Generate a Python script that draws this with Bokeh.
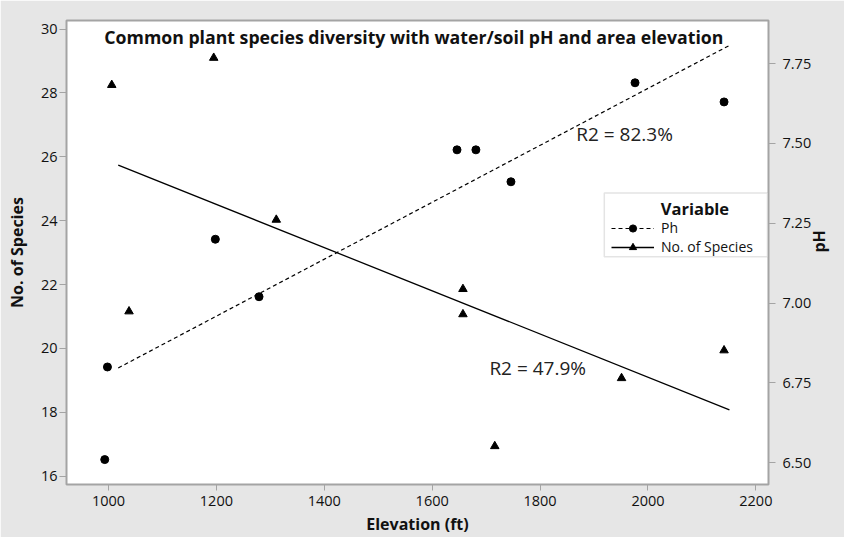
import math
from bokeh.plotting import figure
from bokeh.models import (Range1d, LinearAxis, FixedTicker, NumeralTickFormatter,
                          Label, Legend, LegendItem, BoxAnnotation)
from bokeh.embed import file_html
from bokeh.resources import INLINE

# ---- data ----
elev_ph = [993, 998, 1198, 1279, 1646, 1681, 1746, 1976, 2141]
ph = [6.51, 6.80, 7.20, 7.02, 7.48, 7.48, 7.38, 7.69, 7.63]

elev_species = [1006, 1038, 1195, 1311, 1657, 1657, 1716, 1951, 2141]
species = [28.25, 21.16, 29.10, 24.03, 21.86, 21.07, 16.94, 19.07, 19.94]

fit_elev = [1018, 2151]
fit_ph = [6.797, 7.807]
fit_species = [25.74, 18.08]

x_ticks = [1000, 1200, 1400, 1600, 1800, 2000, 2200]
species_ticks = [16, 18, 20, 22, 24, 26, 28, 30]
ph_ticks = [6.50, 6.75, 7.00, 7.25, 7.50, 7.75]

title_text = "Common plant species diversity with water/soil pH and area elevation"
x_label = "Elevation (ft)"
y_label = "No. of Species"
y2_label = "pH"
r2_ph_text = "R2 = 82.3%"
r2_species_text = "R2 = 47.9%"
legend_title = "Variable"
legend_labels = ["Ph", "No. of Species"]

FONT = "Open Sans"
GRAY = "#a4a4a4"
TXT = "#111111"

p = figure(width=844, height=537, output_backend="svg", toolbar_location=None,
           x_range=Range1d(922.1, 2223.4), y_range=Range1d(15.74, 30.27),
           min_border_left=66, min_border_right=71, min_border_top=20,
           min_border_bottom=52,
           background_fill_color="white", border_fill_color="#e6e6e6",
           outline_line_color=GRAY, outline_line_width=2)
p.extra_y_ranges = {"ph": Range1d(6.432, 7.885)}
p.xgrid.visible = False
p.ygrid.visible = False

right = LinearAxis(y_range_name="ph", axis_label=y2_label)
p.add_layout(right, "right")
p.xaxis.axis_label = x_label
p.yaxis[0].axis_label = y_label

p.xaxis.ticker = FixedTicker(ticks=x_ticks)
p.yaxis[0].ticker = FixedTicker(ticks=species_ticks)
right.ticker = FixedTicker(ticks=ph_ticks)
right.formatter = NumeralTickFormatter(format="0.00")

for ax in [p.xaxis[0], p.yaxis[0], right]:
    ax.axis_line_color = None
    ax.major_tick_line_color = GRAY
    ax.major_tick_line_width = 1
    ax.major_tick_in = 0
    ax.major_tick_out = 7
    ax.minor_tick_line_color = None
    ax.major_label_text_font = FONT
    ax.major_label_text_font_size = "14.5px"
    ax.major_label_text_color = TXT
    ax.axis_label_text_font = FONT
    ax.axis_label_text_font_style = "bold"
    ax.axis_label_text_font_size = "16px"
    ax.axis_label_text_color = TXT

p.xaxis[0].major_tick_out = 6
p.xaxis[0].major_label_standoff = 5
p.xaxis[0].axis_label_standoff = 4
p.yaxis[0].major_label_standoff = 2
p.yaxis[0].axis_label_standoff = 10
right.major_label_standoff = 7
right.axis_label_standoff = 5
right.axis_label_orientation = math.pi / 2
right.axis_label_text_baseline = "top"

# ---- fit lines and points ----
sp_line = p.line(fit_elev, fit_species, line_color="black", line_width=1.3)
ph_line = p.line(fit_elev, fit_ph, line_color="black", line_width=1.2,
                 line_dash="4 3", y_range_name="ph")
ph_pts = p.scatter(elev_ph, ph, marker="circle", size=8, color="black",
                   y_range_name="ph")
sp_pts = p.scatter(elev_species, species, marker="triangle", size=8.5,
                   color="black")

# ---- texts ----
p.add_layout(Label(x=1566, y=29.74, text=title_text, text_font=FONT,
                   text_font_style="bold", text_font_size="17.7px",
                   text_align="center", text_baseline="middle", text_color=TXT))
p.add_layout(Label(x=1867, y=26.73, text=r2_ph_text, text_font=FONT,
                   text_font_size="19px", text_align="left",
                   text_baseline="middle", text_color="#222222"))
p.add_layout(Label(x=1706, y=19.39, text=r2_species_text, text_font=FONT,
                   text_font_size="19px", text_align="left",
                   text_baseline="middle", text_color="#222222"))

# ---- legend ----
p.add_layout(BoxAnnotation(left=1919, right=2221.5, top=24.87, bottom=22.87,
                           fill_color="white", fill_alpha=1,
                           line_color=GRAY, line_width=1.5))
p.add_layout(Label(x=2087, y=24.39, text=legend_title, text_font=FONT,
                   text_font_style="bold", text_font_size="16.5px",
                   text_align="center", text_baseline="middle", text_color=TXT))
legend = Legend(items=[LegendItem(label=legend_labels[0], renderers=[ph_line, ph_pts]),
                       LegendItem(label=legend_labels[1], renderers=[sp_line, sp_pts])],
                location=(545, 228), orientation="vertical",
                glyph_width=43, glyph_height=18, label_height=16,
                label_standoff=7, spacing=0, padding=0, margin=0,
                label_text_font=FONT, label_text_font_size="14px",
                label_text_color=TXT,
                border_line_color=None, background_fill_alpha=0)
p.add_layout(legend)

open("out.html", "w").write(file_html(p, INLINE))
